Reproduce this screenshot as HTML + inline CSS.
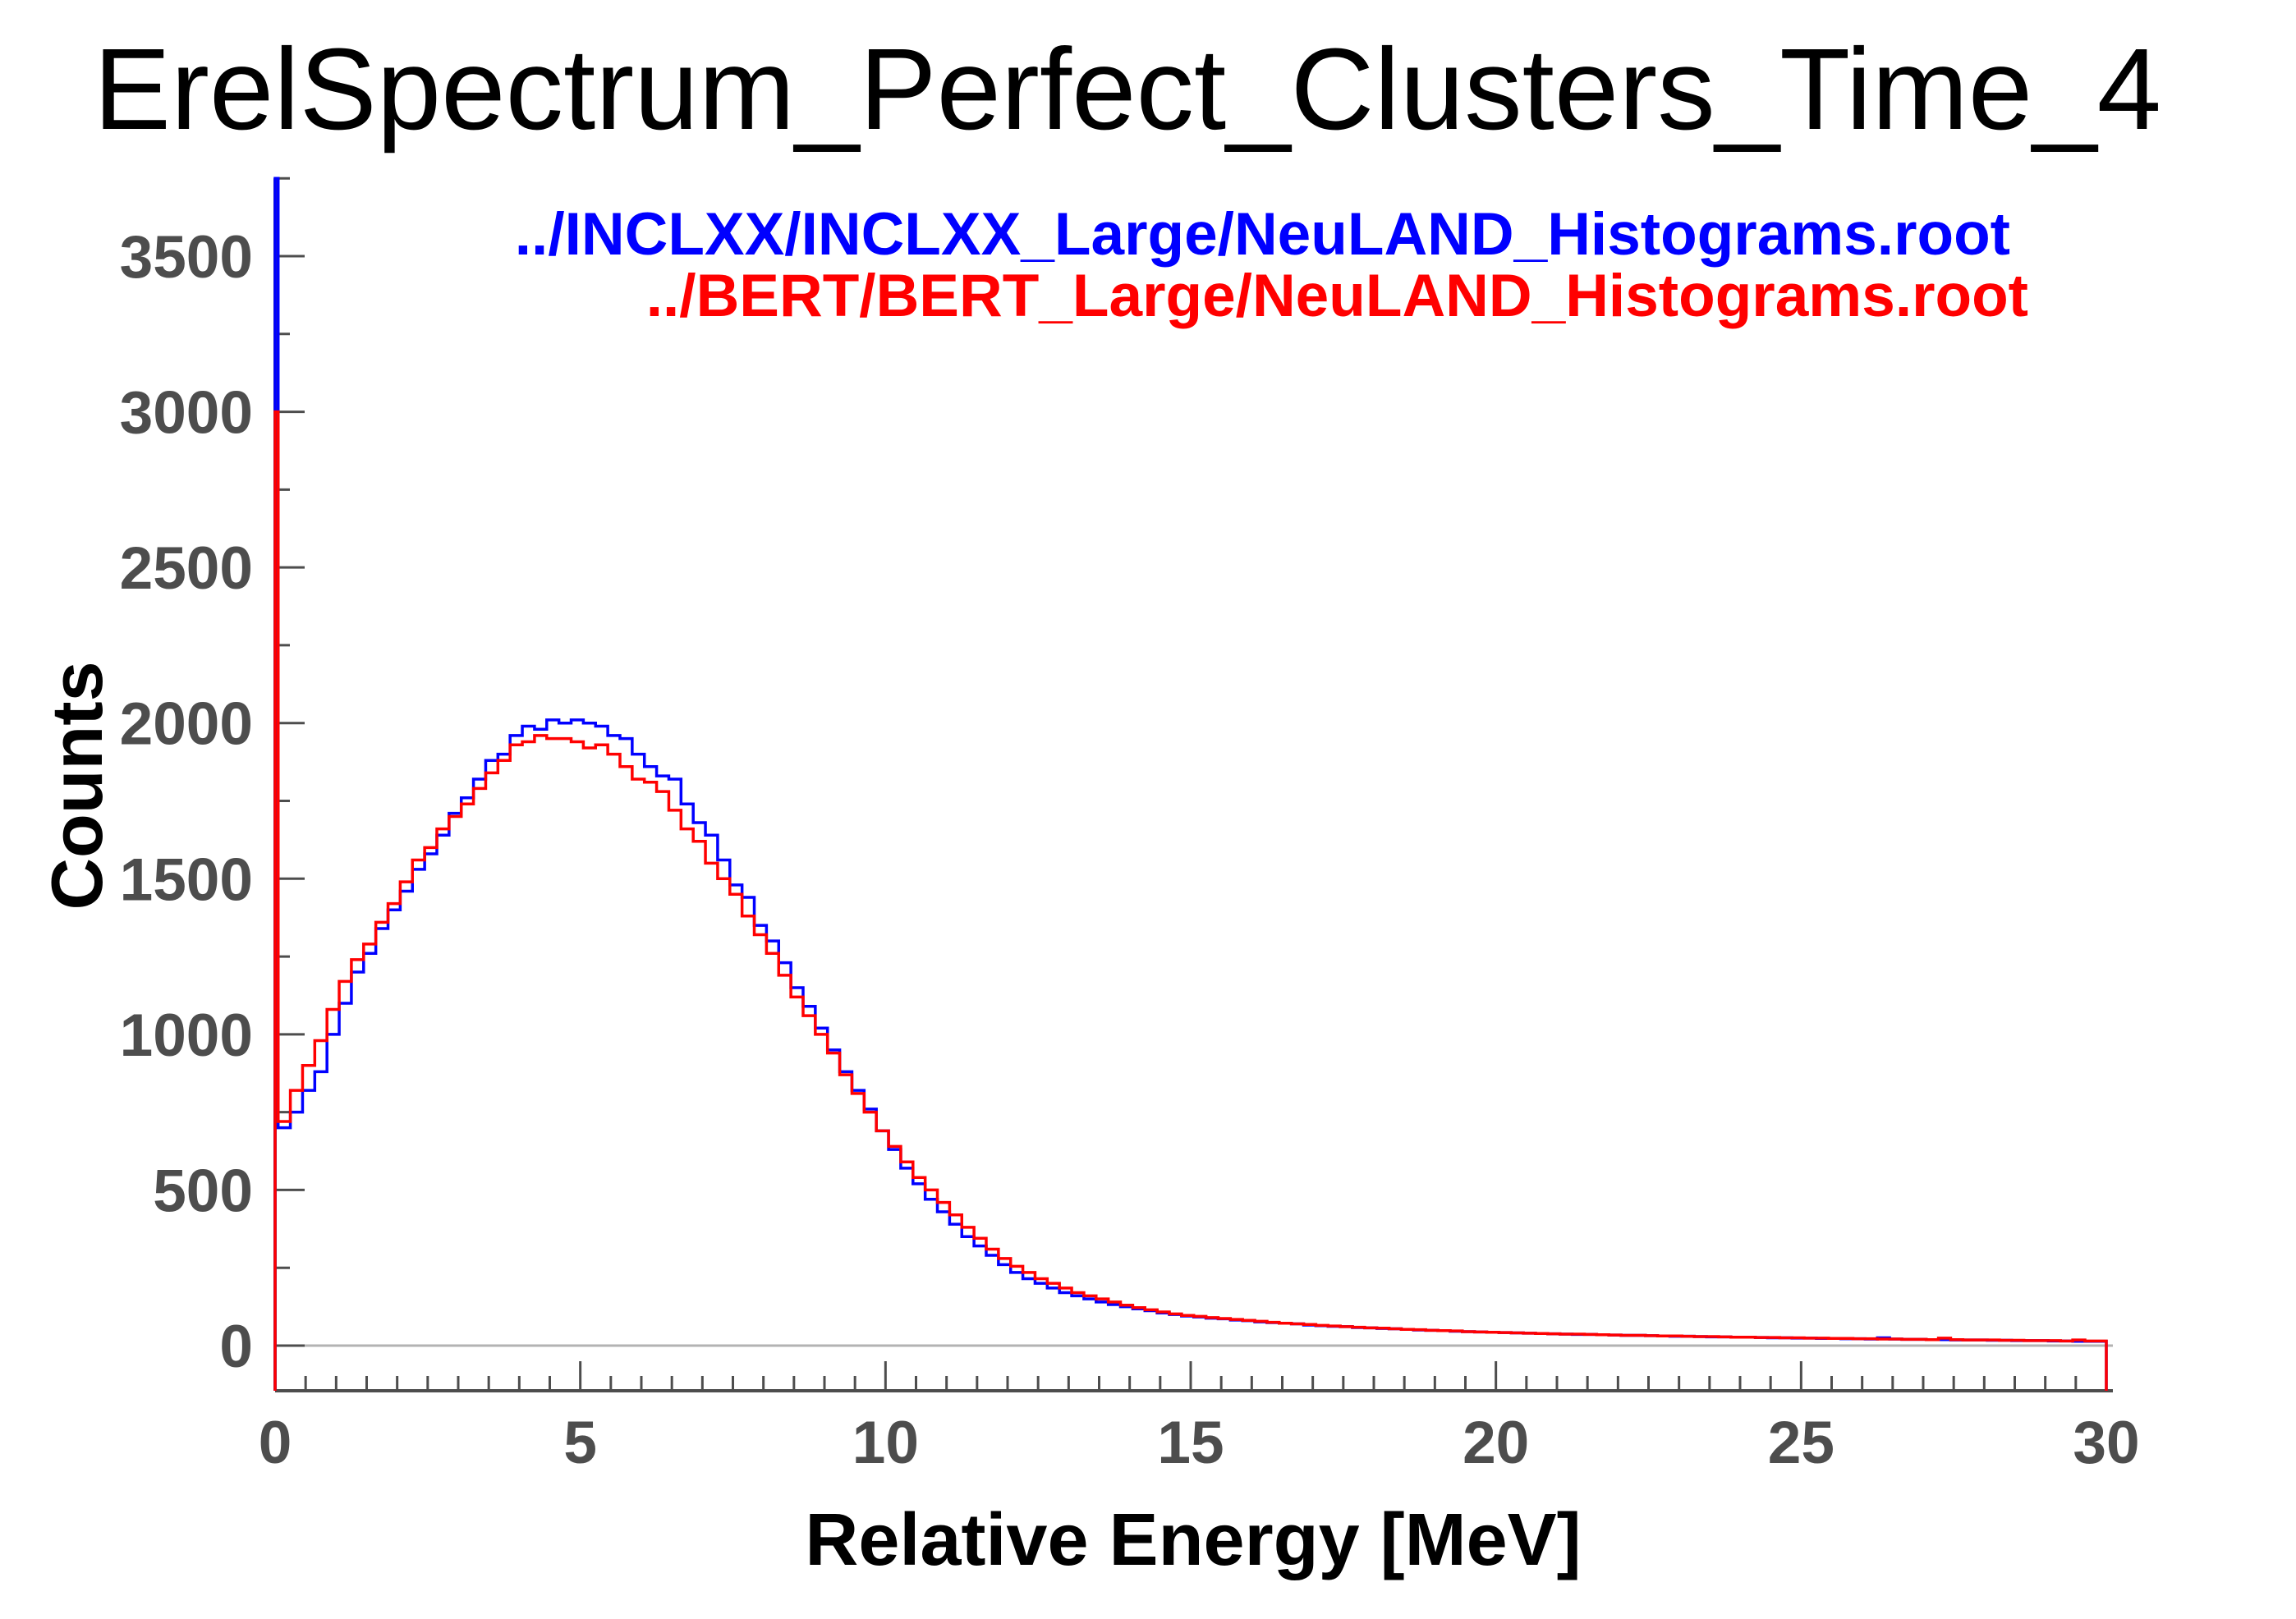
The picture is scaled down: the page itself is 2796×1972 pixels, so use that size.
<!DOCTYPE html>
<html><head><meta charset="utf-8">
<style>html,body{margin:0;padding:0;background:#fff;}svg{display:block;}</style>
</head><body>
<svg id="chart" width="2796" height="1972" viewBox="0 0 2796 1972" xmlns="http://www.w3.org/2000/svg" font-family="Liberation Sans, sans-serif">
<text x="1373" y="157" font-size="141" text-anchor="middle" fill="#000">ErelSpectrum_Perfect_Clusters_Time_4</text>
<text x="2448" y="310" font-size="73" font-weight="bold" text-anchor="end" fill="#0000ff">../INCLXX/INCLXX_Large/NeuLAND_Histograms.root</text>
<text x="2470" y="385" font-size="73" font-weight="bold" text-anchor="end" fill="#ff0000">../BERT/BERT_Large/NeuLAND_Histograms.root</text>
<text x="1453" y="1906" font-size="90" font-weight="bold" text-anchor="middle" fill="#000">Relative Energy [MeV]</text>
<text transform="translate(124,957) rotate(-90)" font-size="88" font-weight="bold" text-anchor="middle" fill="#000">Counts</text>
<g id="axes"></g>
<g id="series"></g>
</svg>
<script>
const spikeWidth = 0.05;
const binWidth = 0.2;
const xTicks = [0, 5, 10, 15, 20, 25, 30];
const yTicks = [0, 500, 1000, 1500, 2000, 2500, 3000, 3500];
const inclxx = [3750,700,750,820,880,1000,1100,1200,1260,1340,1400,1460,1530,1580,1640,1710,1760,1820,1880,1900,
1960,1990,1980,2010,2000,2010,2000,1990,1960,1950,1900,1860,1830,1820,1740,1680,1640,1560,1480,1440,
1350,1300,1230,1150,1090,1020,950,880,820,760,690,630,570,520,470,430,390,350,320,290,
260,235,215,200,185,170,160,150,140,132,125,118,112,105,100,
95,92,88,86,82,80,76,74,72,70,66,64,62,61,58,57,55,54,52,50,
49,48,46,45,44,43,42,41,40,39,38,37,36,36,35,34,33,33,32,31,
30,30,29,28,28,27,27,26,25,25,24,24,23,23,22,22,21,25,21,20,
20,19,19,18,18,18,17,17,16,16,16,15,15,14,14];
const bert = [3000,720,820,900,980,1080,1170,1240,1290,1360,1420,1490,1560,1600,1660,1700,1740,1790,1840,1880,
1930,1940,1960,1950,1950,1940,1920,1930,1900,1860,1820,1810,1780,1720,1660,1620,1550,1500,1450,1380,
1320,1260,1190,1120,1060,1000,940,870,810,750,690,640,590,540,500,460,420,380,345,310,
280,255,235,215,200,185,170,160,150,140,130,122,115,108,102,
97,94,90,87,84,81,78,75,72,70,68,65,63,61,59,57,56,54,52,51,
49,48,47,45,44,43,42,41,40,39,38,37,37,36,35,34,33,33,32,31,
31,30,29,29,28,27,27,26,26,25,25,24,24,23,23,22,22,21,21,20,
20,19,24,19,18,18,18,17,17,16,16,16,15,18,15];
const NS = 'http://www.w3.org/2000/svg';
const X0 = 335, X1 = 2565, Y0 = 1639, YPER = (1639 - 312) / 3500;
const xScale = v => X0 + (v / 30) * (X1 - X0);
const yScale = v => Y0 - v * YPER;
const axisBottom = 1694, axisTop = yScale(3750);
function mk(tag, attrs, parent) {
  const e = document.createElementNS(NS, tag);
  for (const k in attrs) e.setAttribute(k, attrs[k]);
  parent.appendChild(e);
  return e;
}
const axes = document.getElementById('axes');
const zl = mk('line', {x1: X0, x2: X1 + 8, y1: Y0, y2: Y0, stroke: '#b3b3b3', 'stroke-width': 3}, axes);


const xa = mk('line', {x1: X0, x2: X1 + 8, y1: axisBottom, y2: axisBottom, stroke: '#4d4d4d', 'stroke-width': 4}, axes);


const ya = mk('line', {x1: X0, x2: X0, y1: axisTop, y2: axisBottom, stroke: '#4d4d4d', 'stroke-width': 4}, axes);


for (let i = 0; i <= 60; i++) {
  const v = i * 0.5, x = xScale(v), major = (i % 10 === 0);
  const t = mk('line', {x1: x, x2: x, y1: axisBottom, y2: axisBottom - (major ? 36 : 18), stroke: '#4d4d4d', 'stroke-width': 3}, axes);
  
  
}
xTicks.forEach(v => {
  const t = mk('text', {x: xScale(v), y: 1782, 'font-size': 73, 'font-weight': 'bold', 'text-anchor': 'middle', fill: '#4d4d4d'}, axes);
  t.textContent = v;
  
  
});
for (let v = 0; v <= 3750; v += 250) {
  const y = yScale(v), major = (v % 500 === 0);
  const t = mk('line', {x1: X0, x2: X0 + (major ? 36 : 18), y1: y, y2: y, stroke: '#4d4d4d', 'stroke-width': 3}, axes);
  
  
}
yTicks.forEach(v => {
  const t = mk('text', {x: 308, y: yScale(v) + 26, 'font-size': 73, 'font-weight': 'bold', 'text-anchor': 'end', fill: '#4d4d4d'}, axes);
  t.textContent = v;
  
  
});
function edge(i) { return i === 0 ? 0 : spikeWidth + (i - 1) * binWidth; }
function stepPath(vals) {
  let d = 'M' + xScale(0) + ',' + axisBottom;
  vals.forEach((v, i) => {
    const y = yScale(v);
    const e1 = (i === vals.length - 1) ? 30 : edge(i + 1);
    d += ' L' + xScale(edge(i)) + ',' + y + ' L' + xScale(e1) + ',' + y;
  });
  d += ' L' + xScale(30) + ',' + axisBottom;
  return d;
}
const series = document.getElementById('series');
const pb = mk('path', {d: stepPath(inclxx), fill: 'none', stroke: '#0000ff', 'stroke-width': 3.5}, series);


const pr = mk('path', {d: stepPath(bert), fill: 'none', stroke: '#ff0000', 'stroke-width': 3.5}, series);


</script>
</body></html>
